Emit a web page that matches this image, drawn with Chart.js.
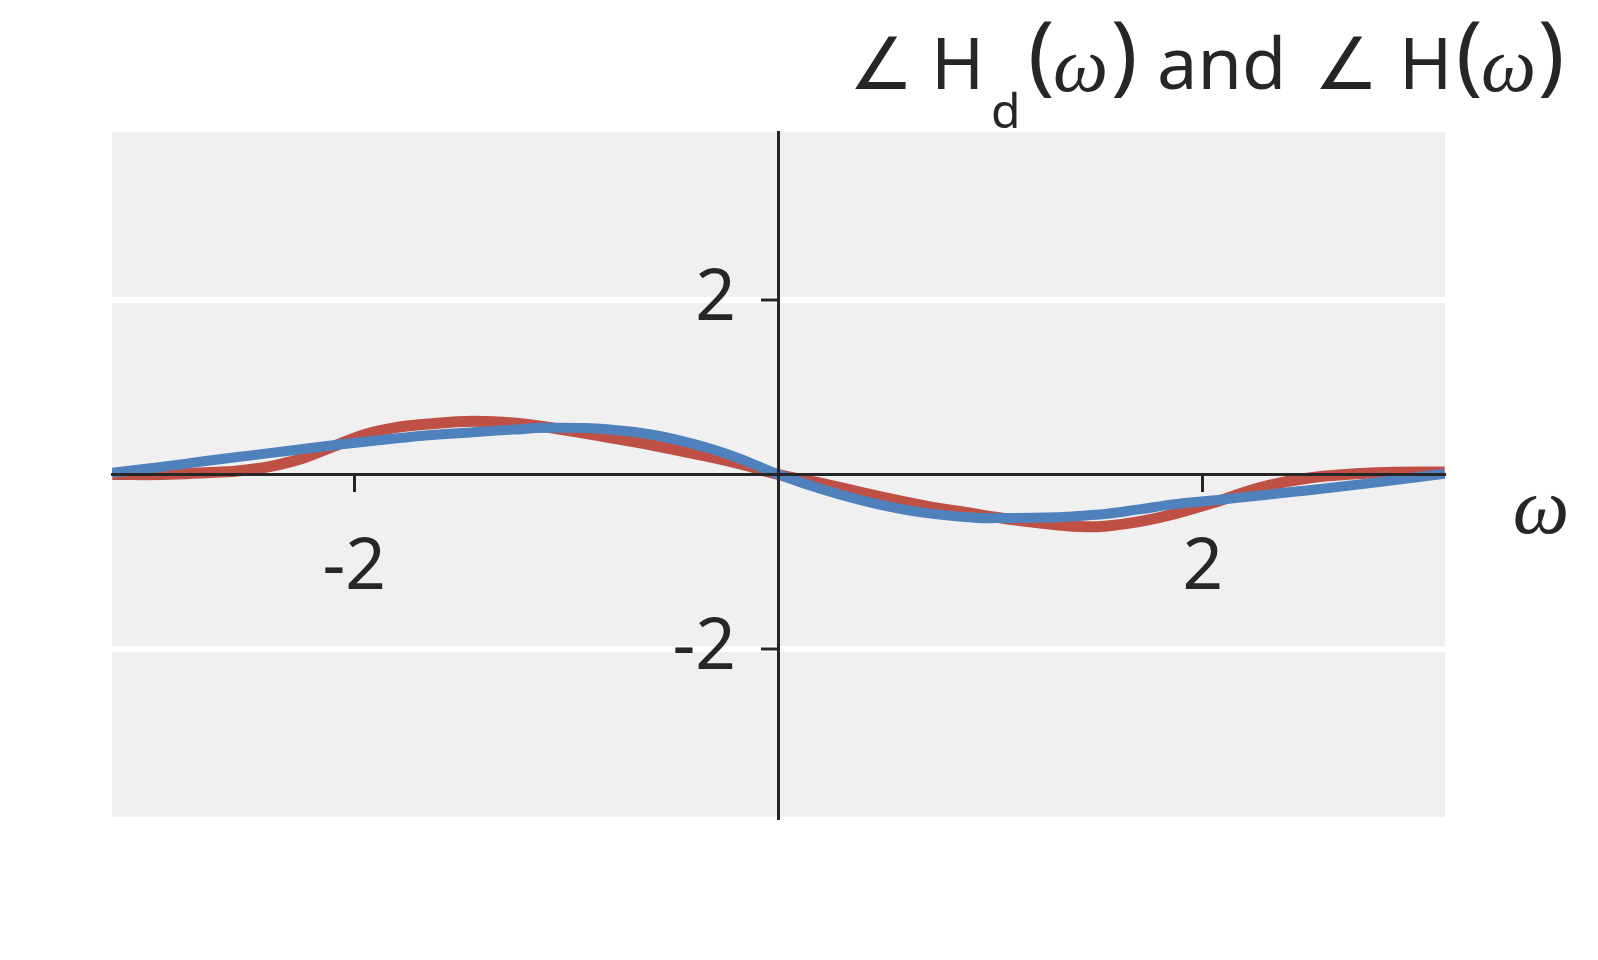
<!DOCTYPE html>
<html>
<head>
<meta charset="utf-8">
<script src="https://cdn.jsdelivr.net/npm/chart.js@4/dist/chart.umd.min.js"></script>
<style>
    body { margin: 0; background: #ffffff; }
    #box { width: 1598px; height: 960px; }
</style>
</head>
<body>
<div id="box"><canvas id="phaseChart" width="1598" height="960"></canvas></div>
<script>
// values
const omega  = [-3.14, -2.9, -2.7, -2.55, -2.4, -2.25, -2.1, -1.95, -1.8, -1.65, -1.44, -1.25, -1.08, -0.81, -0.58, -0.34, -0.18, 0, 0.22, 0.45, 0.69, 0.92, 1.05, 1.32, 1.45, 1.55, 1.7, 1.87, 2.08, 2.27, 2.5, 2.82, 3.14];
const angleHd = [0, 0, 0.02, 0.04, 0.09, 0.18, 0.32, 0.46, 0.54, 0.58, 0.61, 0.59, 0.54, 0.43, 0.33, 0.21, 0.12, 0, -0.11, -0.24, -0.36, -0.45, -0.5, -0.58, -0.6, -0.59, -0.54, -0.45, -0.3, -0.15, -0.04, 0.02, 0.03];
const angleH  = [0.02, 0.09, 0.155, 0.2, 0.245, 0.29, 0.335, 0.375, 0.415, 0.45, 0.485, 0.515, 0.535, 0.52, 0.45, 0.31, 0.18, 0, -0.18, -0.33, -0.44, -0.495, -0.5, -0.49, -0.47, -0.45, -0.4, -0.34, -0.29, -0.24, -0.18, -0.09, 0.01];
const xTicks = [-2, 2];
const yTicks = [-2, 2];

const ink = '#262626';
const sans = '"Noto Sans", "Open Sans", "DejaVu Sans", sans-serif';
const mathFont = 'italic 78px "Liberation Serif", "DejaVu Serif", serif';

function points(ys) {
    return omega.map((w, i) => ({ x: w, y: ys[i] }));
}

//plot background
const panelBg = {
    id: 'panelBg',
    beforeDraw(chart) {
        const { ctx, chartArea: a } = chart;
        ctx.save();
        ctx.fillStyle = '#f0f0f0';
        ctx.fillRect(a.left, a.top, a.right - a.left, a.bottom - a.top);
        ctx.restore();
    }
};

//title and omega label (subscript + italic omega, so drawn by hand)
const labels = {
    id: 'labels',
    afterDraw(chart) {
        const ctx = chart.ctx;
        const base = 89;
        const parts = [
            { t: '\u2220', f: '72px ' + sans, x: 849, dy: 0 },
            { t: 'H', f: '72px ' + sans, x: 931, dy: 0 },
            { t: 'd', f: '48px ' + sans, x: 991, dy: 39 },
            { t: '(', f: '88px ' + sans, x: 1028, dy: -5 },
            { t: '\u03c9', f: mathFont, x: 1053, dy: 2 },
            { t: ')', f: '88px ' + sans, x: 1111, dy: -5 },
            { t: 'and', f: '72px ' + sans, x: 1157, dy: 0 },
            { t: '\u2220', f: '72px ' + sans, x: 1314, dy: 0 },
            { t: 'H', f: '72px ' + sans, x: 1399, dy: 0 },
            { t: '(', f: '88px ' + sans, x: 1456, dy: -5 },
            { t: '\u03c9', f: mathFont, x: 1481, dy: 2 },
            { t: ')', f: '88px ' + sans, x: 1538, dy: -5 }
        ];
        ctx.save();
        ctx.fillStyle = ink;
        ctx.textBaseline = 'alphabetic';
        ctx.textAlign = 'left';
        parts.forEach(p => {
            ctx.font = p.f;
            ctx.fillText(p.t, p.x, base + p.dy);
        });

        ctx.font = 'italic 80px "Liberation Serif", "DejaVu Serif", serif';
        ctx.textAlign = 'center';
        ctx.fillText('\u03c9', 1541, 533);
        ctx.restore();
    }
};

const config = {
    type: 'line',
    data: {
        datasets: [{
            label: '\u2220 Hd(\u03c9)',
            data: points(angleHd),
            borderColor: '#bf5046',
            borderWidth: 11,
            pointRadius: 0,
            tension: 0.4,
            order: 2,
            clip: 0
        }, {
            label: '\u2220 H(\u03c9)',
            data: points(angleH),
            borderColor: '#4f81bd',
            borderWidth: 10,
            pointRadius: 0,
            tension: 0.4,
            order: 1,
            clip: 0
        }]
    },
    options: {
        responsive: false,
        animation: false,
        events: [],
        layout: { padding: { left: 112, right: 153, top: 132, bottom: 143 } },
        plugins: { legend: { display: false }, tooltip: { enabled: false } },
        scales: {
            x: {
                type: 'linear',
                position: { y: 0 },
                min: -Math.PI,
                max: Math.PI,
                afterBuildTicks: (scale) => { scale.ticks = xTicks.map(v => ({ value: v })); },
                grid: { drawOnChartArea: false, tickLength: 16, tickColor: ink, tickWidth: 3 },
                border: { display: true, color: ink, width: 3, z: 1 },
                ticks: { color: ink, font: { family: sans, size: 71 }, padding: 36, maxRotation: 0 }
            },
            y: {
                type: 'linear',
                position: { x: 0 },
                min: -3.93,
                max: 3.93,
                afterBuildTicks: (scale) => { scale.ticks = yTicks.map(v => ({ value: v })); },
                grid: { color: '#ffffff', lineWidth: 6, tickLength: 16, tickColor: ink, tickWidth: 3 },
                border: { display: true, color: ink, width: 3, z: 1 },
                ticks: {
                    color: ink,
                    font: { family: sans, size: 71 },
                    // labels sit right-aligned on the axis line, so pad them out past the tick
                    callback: (v) => v + '\u2002\u200a'
                }
            }
        }
    },
    plugins: [panelBg, labels]
};

new Chart(document.getElementById('phaseChart'), config);
</script>
</body>
</html>
